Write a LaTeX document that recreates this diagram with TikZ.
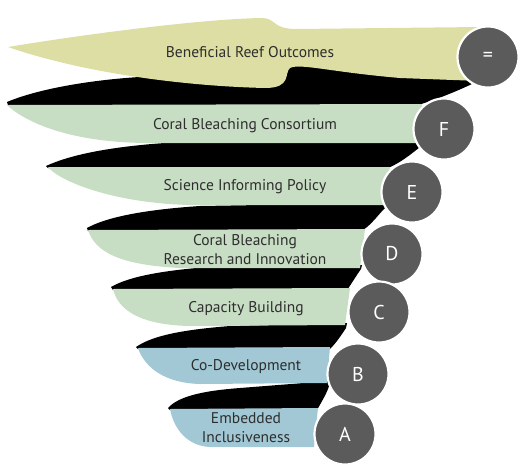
\documentclass[tikz,border=0pt]{standalone}
\usepackage{fontspec}
\setmainfont{PT Sans}
\definecolor{reefyellow}{HTML}{DDDEA3}
\definecolor{reefgreen}{HTML}{C8DEC4}
\definecolor{reefblue}{HTML}{A2C8D5}
\definecolor{discgray}{HTML}{5B5B5B}
\definecolor{labelgray}{HTML}{2E2E2E}
\begin{document}
\begin{tikzpicture}[x=1pt,y=-1pt,
  shadowband/.style={fill=black,draw=none},
  yellowband/.style={fill=reefyellow,draw=none},
  greenband/.style={fill=reefgreen,draw=none},
  blueband/.style={fill=reefblue,draw=none},
  disc/.style={circle,fill=discgray,draw=white,line width=2.2pt,minimum size=61pt,inner sep=0pt,text=white,font=\fontsize{20}{20}\selectfont},
  bandtext/.style={text=labelgray,font=\fontsize{15.5}{19}\selectfont,align=center,inner sep=0pt}]
\useasboundingbox (0,0) rectangle (520,464);
% shadows
\path[shadowband] (7,102) .. controls (40,88) and (100,78) .. (160,76) -- (300,62) -- (472,76) -- (472,84) .. controls (455,92) and (435,100) .. (418,105) -- (8,105) -- cycle;
\path[shadowband] (46,166) .. controls (70,155) and (110,146) .. (180,142) -- (420,141) -- (420,147) .. controls (410,155) and (400,163) .. (388,168) -- (48,168) -- cycle;
\path[shadowband] (87,228) .. controls (105,218) and (140,210) .. (200,206) -- (383,203) -- (385,208) .. controls (378,215) and (372,224) .. (363,230) -- (88,231) -- cycle;
\path[shadowband] (111,287) .. controls (130,276) and (165,270) .. (220,266) -- (362,265) -- (361,269) .. controls (356,276) and (352,283) .. (347,290) -- (113,290) -- cycle;
\path[shadowband] (136,347) .. controls (152,336) and (180,330) .. (230,326) -- (347,323) -- (346,328) .. controls (342,334) and (337,342) .. (330,349) -- (138,349) -- cycle;
\path[shadowband] (168,408) .. controls (178,397) and (200,391) .. (240,388) -- (329,381) -- (329,386) .. controls (327,393) and (322,401) .. (317,410) -- (170,410) -- cycle;
% bands
\path[yellowband] (8,47) .. controls (80,35) and (200,19) .. (262,18) .. controls (276,18) and (272,29) .. (296,29) -- (480,27) -- (480,81) -- (400,78) .. controls (330,72) and (300,63) .. (290,68) .. controls (284,73) and (292,88) .. (265,88) .. controls (180,86) and (80,72) .. cycle;
\path[greenband] (7,105) -- (422,104) -- (420,143) -- (150,143) .. controls (70,143) and (25,122) .. cycle;
\path[greenband] (48,167) -- (390,167) -- (383,205) -- (190,205) .. controls (110,203) and (58,180) .. cycle;
\path[greenband] (88,230) -- (365,229) -- (360,268) -- (180,268) .. controls (120,265) and (95,252) .. cycle;
\path[greenband] (113,289) -- (350,288) -- (345,325) -- (190,326) .. controls (140,325) and (118,310) .. cycle;
\path[blueband] (138,348) -- (330,347) -- (327,383) -- (200,384) .. controls (165,383) and (145,368) .. cycle;
\path[blueband] (170,409) -- (318,408) -- (314,447) -- (210,447) .. controls (188,446) and (174,430) .. cycle;
% discs
\node[disc] (dEq) at (488,57) {=};
\node[disc] (dF) at (444,129) {F};
\node[disc] (dE) at (412,192) {E};
\node[disc] (dD) at (392,254) {D};
\node[disc] (dC) at (379,312) {C};
\node[disc] (dB) at (358,374) {B};
\node[disc] (dA) at (345,434) {A};
% labels
\node[bandtext] (tEq) at (250,52) {Beneficial Reef Outcomes};
\node[bandtext] (tF) at (245,126) {Coral Bleaching Consortium};
\node[bandtext] (tE) at (245,187) {Science Informing Policy};
\node[bandtext] (tD) at (245,250) {Coral Bleaching\\Research and Innovation};
\node[bandtext] (tC) at (246,309) {Capacity Building};
\node[bandtext] (tB) at (246,367) {Co-Development};
\node[bandtext] (tA) at (246,428) {Embedded\\Inclusiveness};
\end{tikzpicture}
\end{document}
